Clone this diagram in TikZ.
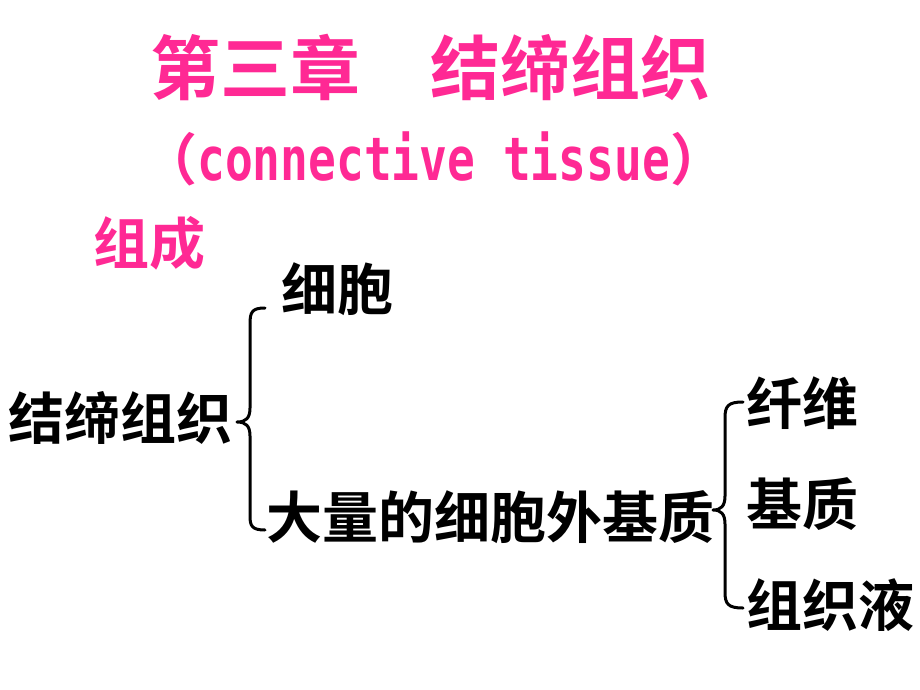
\documentclass[tikz,border=0pt]{standalone}
\usepackage{fontspec}
\newfontfamily\cjk{Noto Sans CJK SC}[BoldFont={Noto Sans CJK SC Bold}]
\newfontfamily\latinmono{DejaVu Sans Mono}[FakeStretch=0.77]
\definecolor{titlepink}{RGB}{255,41,148}

\begin{document}
\begin{tikzpicture}[x=1pt, y=-1pt,
    every node/.style={inner sep=0pt, anchor=west},
    word/.style={font=\cjk\bfseries\fontsize{56}{60}\selectfont},
    heading/.style={text=titlepink, font=\cjk\bfseries\fontsize{70}{74}\selectfont},
    brace/.style={line width=3pt, line cap=round, line join=round}]
    \useasboundingbox (0,0) rectangle (920,690);
    % title
    \node [heading] (Title) at (150,67) {第三章　结缔组织};
    \node [word, text=titlepink] (Subtitle) at (141,159) {（{\latinmono\bfseries\fontsize{60}{64}\selectfont connective tissue}）};
    \node [word, text=titlepink] (Parts) at (93,243) {组成};
    % tree
    \node [word] (Root) at (8,418) {结缔组织};
    \node [word] (Cells) at (281,289) {细胞};
    \node [word] (Matrix) at (266,517) {大量的细胞外基质};
    \node [word] (Fibre) at (746,403) {纤维};
    \node [word] (Ground) at (746,504) {基质};
    \node [word] (Fluid) at (746,605) {组织液};
    \coordinate (lbTop) at (265,308);
    \coordinate (lbTip) at (237,422);
    \coordinate (lbEnd) at (265,530);
    \coordinate (rbTop) at (743,402);
    \coordinate (rbTip) at (713,510);
    \coordinate (rbEnd) at (743,608);
    \draw[brace] (lbTop) .. controls (252,308) and (250,312) .. (250,324) -- (250,408)
        .. controls (250,418) and (246,422) .. (lbTip)
        .. controls (246,422) and (250,426) .. (250,436) -- (250,516)
        .. controls (250,526) and (252,530) .. (lbEnd);
    \draw[brace] (rbTop) .. controls (728,402) and (725,406) .. (725,418) -- (725,496)
        .. controls (725,506) and (721,510) .. (rbTip)
        .. controls (721,510) and (725,514) .. (725,524) -- (725,592)
        .. controls (725,604) and (728,608) .. (rbEnd);
\end{tikzpicture}
\end{document}
